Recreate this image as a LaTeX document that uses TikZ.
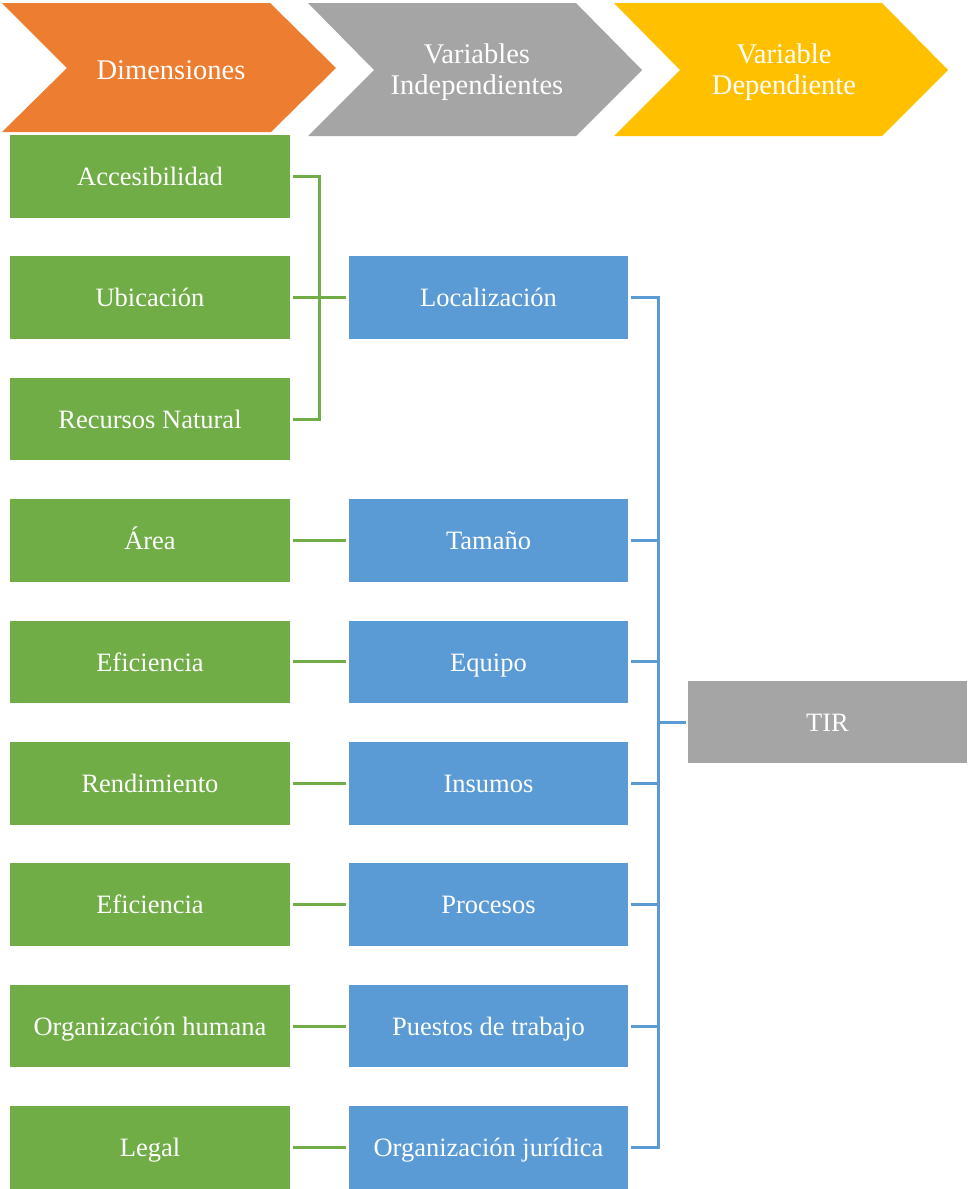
\documentclass[tikz,border=0pt]{standalone}
\usepackage{fontspec}
\setmainfont{Liberation Serif}
\definecolor{cOrange}{HTML}{ED7D31}
\definecolor{cGrey}{HTML}{A5A5A5}
\definecolor{cYellow}{HTML}{FFC000}
\definecolor{cGreen}{HTML}{70AD47}
\definecolor{cBlue}{HTML}{5B9BD5}
\tikzset{
  basebox/.style={minimum height=82.5pt, inner sep=0pt, text=white,
    text height=18.5pt, text depth=0pt,
    font=\fontsize{26.5}{30}\selectfont},
  gbox/.style={basebox, fill=cGreen, minimum width=280pt},
  bbox/.style={basebox, fill=cBlue, minimum width=279pt},
  tbox/.style={basebox, fill=cGrey, minimum width=279pt},
  headtext/.style={text=white, align=center, inner sep=0pt,
    font=\fontsize{28.5}{31.5}\selectfont},
  gline/.style={draw=cGreen, line width=3pt},
  bline/.style={draw=cBlue, line width=3pt},
}
\begin{document}
\begin{tikzpicture}[x=1pt,y=-1pt]
\useasboundingbox (0,0) rectangle (969,1189);

% header chevrons
\fill[cOrange] (2,3) -- (270,3) -- (336,68) -- (271,132) -- (2,132) -- (67,68) -- cycle;
\fill[cGrey] (308,3) -- (576,3) -- (642,70) -- (576,136) -- (308,136) -- (374,70) -- cycle;
\fill[cYellow] (614,3) -- (882,3) -- (948,70) -- (882,136) -- (614,136) -- (680,70) -- cycle;
\node[headtext] (h1) at (171,70.5) {Dimensiones};
\node[headtext] (h2) at (477,72) {Variables\\Independientes};
\node[headtext] (h3) at (784,72) {Variable\\Dependiente};

% dimensions
\node[gbox] (g1) at (150,176.3) {Accesibilidad};
\node[gbox] (g2) at (150,297.7) {Ubicación};
\node[gbox] (g3) at (150,419.1) {Recursos Natural};
\node[gbox] (g4) at (150,540.5) {Área};
\node[gbox] (g5) at (150,661.9) {Eficiencia};
\node[gbox] (g6) at (150,783.3) {Rendimiento};
\node[gbox] (g7) at (150,904.7) {Eficiencia};
\node[gbox] (g8) at (150,1026.1) {Organización humana};
\node[gbox] (g9) at (150,1147.5) {Legal};

% independent variables
\node[bbox] (b1) at (488.5,297.7) {Localización};
\node[bbox] (b2) at (488.5,540.5) {Tamaño};
\node[bbox] (b3) at (488.5,661.9) {Equipo};
\node[bbox] (b4) at (488.5,783.3) {Insumos};
\node[bbox] (b5) at (488.5,904.7) {Procesos};
\node[bbox] (b6) at (488.5,1026.1) {Puestos de trabajo};
\node[bbox] (b7) at (488.5,1147.5) {Organización jurídica};

% dependent variable
\node[tbox] (t) at (827.5,722) {TIR};

% green connectors
\coordinate (gbus) at (319,0);
\draw[gline] ([xshift=3pt]g1.east) -- (g1.east -| gbus) -- (g3.east -| gbus) -- ([xshift=3pt]g3.east);
\draw[gline] ([xshift=3pt]g2.east) -- ([xshift=-3pt]b1.west);
\foreach \g/\b in {g4/b2, g5/b3, g6/b4, g7/b5, g8/b6, g9/b7}
  \draw[gline] ([xshift=3pt]\g.east) -- ([xshift=-3pt]\b.west);

% blue connectors
\coordinate (bbus) at (658,0);
\draw[bline] ([xshift=3pt]b1.east) -- (b1.east -| bbus) -- (b7.east -| bbus) -- ([xshift=3pt]b7.east);
\foreach \b in {b2, b3, b4, b5, b6}
  \draw[bline] ([xshift=3pt]\b.east) -- (\b.east -| bbus);
\draw[bline] (t.west -| bbus) -- ([xshift=-2pt]t.west);
\end{tikzpicture}
\end{document}
